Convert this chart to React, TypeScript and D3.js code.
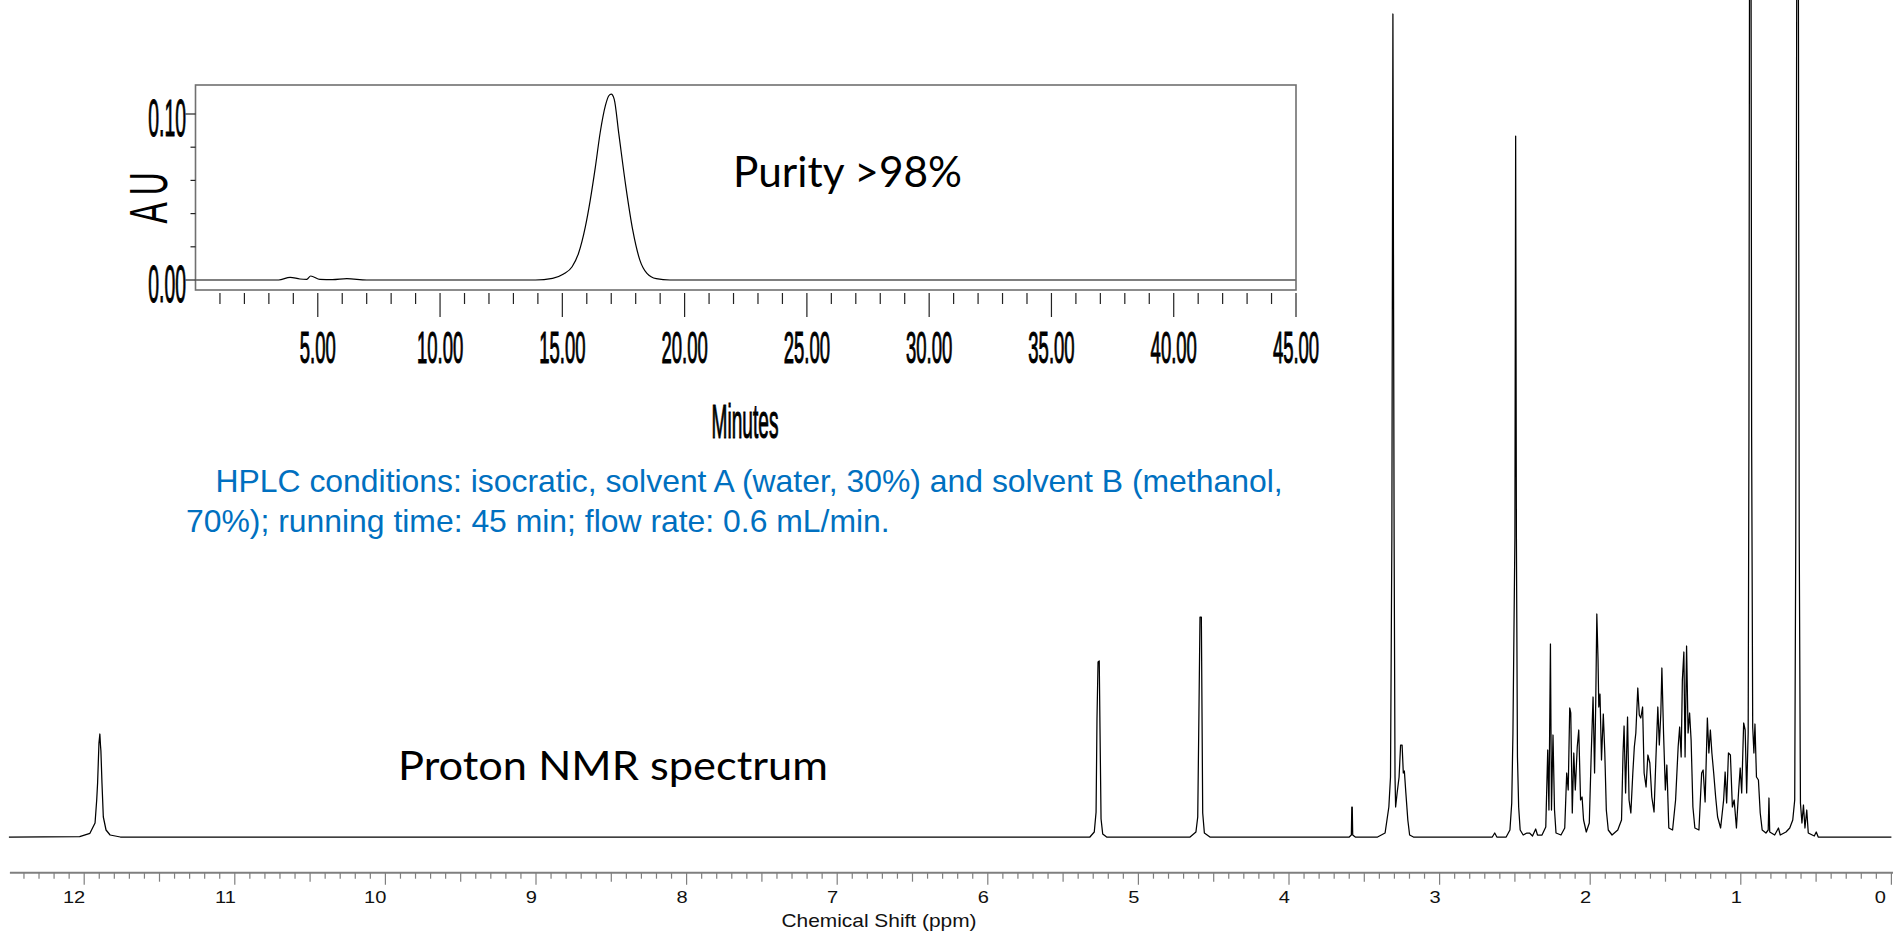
import React from "react";
import * as d3 from "d3";

const WIDTH = 1893;
const HEIGHT = 935;

// ---------- HPLC chromatogram (time in minutes, absorbance in AU) ----------
const hplcTrace: [number, number][] = [
  [0, 0], [3.4, 0], [3.87, 0.0016], [4.27, 0.0006], [4.55, 0.0004], [4.71, 0.0024],
  [5.09, 0.0004], [5.6, 0.0002], [6.19, 0.0008], [7.0, 0], [13.9, 0], [14.6, 0.001],
  [15.05, 0.0036], [15.4, 0.008], [15.66, 0.016], [15.94, 0.032], [16.14, 0.048],
  [16.35, 0.068], [16.55, 0.089], [16.76, 0.105], [16.9, 0.111], [17.0, 0.112],
  [17.12, 0.109], [17.31, 0.088], [17.6, 0.056], [17.88, 0.03], [18.17, 0.012],
  [18.46, 0.004], [18.84, 0.0008], [19.4, 0], [45, 0],
];
const hplcMinuteTicks = d3.range(1, 46);
const hplcLabeledMinutes = [5, 10, 15, 20, 25, 30, 35, 40, 45];
const hplcAbsTicks = [0, 0.02, 0.04, 0.06, 0.08, 0.1];
const hplcAbsLabels = [0, 0.1];

// ---------- 1H NMR spectrum (chemical shift in ppm, intensity in arbitrary units) ----------
const nmrDownfield: [number, number][] = [
  [12.5, 0], [12.03, 0.3], [11.962, 3.7], [11.928, 14], [11.917, 37], [11.911, 54],
  [11.902, 94], [11.896, 103], [11.892, 92], [11.889, 86], [11.882, 54], [11.873, 20],
  [11.855, 7], [11.828, 2], [11.76, 0],
  [5.322, 0], [5.293, 5], [5.281, 25], [5.275, 118], [5.268, 175], [5.26, 176],
  [5.255, 108], [5.248, 18], [5.237, 3], [5.211, 0],
  [4.657, 0], [4.618, 5], [4.606, 20], [4.598, 124], [4.591, 220], [4.582, 220],
  [4.573, 24], [4.562, 4], [4.525, 0],
  [3.6, 0], [3.586, 2], [3.583, 30], [3.58, 30], [3.577, 2], [3.56, 0],
];

const nmrMidfield: [number, number][] = [
  [3.412, 0], [3.362, 4], [3.337, 30], [3.326, 60], [3.317, 300], [3.31, 823],
  [3.302, 300], [3.296, 60], [3.292, 30], [3.282, 44], [3.269, 60], [3.259, 92],
  [3.249, 92], [3.241, 64], [3.234, 66], [3.224, 44], [3.211, 17], [3.199, 2],
  [3.174, 0], [2.65, 0], [2.634, 4], [2.62, 0],
  [2.558, 0], [2.533, 7], [2.521, 34], [2.513, 104], [2.5, 300], [2.495, 701],
  [2.49, 300], [2.483, 80], [2.475, 30], [2.465, 7], [2.445, 2], [2.42, 4],
  [2.403, 4], [2.383, 1], [2.362, 8], [2.35, 2], [2.32, 2], [2.295, 10],
];

const nmrAliphatic: [number, number][] = [
  [2.282, 87], [2.274, 27], [2.264, 193], [2.257, 27], [2.247, 102], [2.237, 27],
  [2.227, 4], [2.194, 2], [2.169, 9], [2.156, 64], [2.146, 47], [2.136, 129],
  [2.129, 124], [2.119, 24], [2.109, 84], [2.099, 47], [2.086, 90], [2.076, 107],
  [2.064, 37], [2.054, 40], [2.044, 17], [2.026, 5], [2.006, 14], [1.993, 84],
  [1.981, 140], [1.971, 64], [1.963, 137], [1.956, 223], [1.948, 177], [1.943, 130],
  [1.935, 143], [1.925, 77], [1.913, 123], [1.903, 84], [1.893, 27], [1.88, 7],
  [1.855, 2], [1.817, 7], [1.792, 17], [1.782, 84], [1.775, 111], [1.765, 44],
  [1.752, 120], [1.742, 37], [1.73, 24], [1.717, 64], [1.707, 90], [1.697, 104],
  [1.684, 149], [1.674, 122], [1.664, 119], [1.652, 130], [1.642, 64], [1.629, 50],
  [1.617, 82], [1.604, 74], [1.591, 40], [1.576, 25], [1.564, 77], [1.551, 130],
  [1.541, 92], [1.531, 124], [1.524, 169], [1.513, 104], [1.501, 47], [1.491, 72],
  [1.478, 9], [1.453, 7], [1.433, 37], [1.416, 90], [1.406, 110], [1.396, 80],
  [1.388, 157], [1.378, 185], [1.37, 80], [1.36, 191], [1.35, 104], [1.34, 124],
  [1.33, 97], [1.318, 30], [1.305, 9], [1.278, 7], [1.26, 64], [1.25, 67],
  [1.237, 35], [1.222, 119], [1.212, 84], [1.202, 107], [1.192, 84], [1.18, 64],
  [1.167, 40], [1.154, 20], [1.134, 9], [1.114, 37], [1.104, 65], [1.094, 34],
  [1.082, 84], [1.069, 82], [1.056, 30], [1.044, 37], [1.029, 9], [1.014, 47],
  [1.004, 69], [0.994, 44], [0.981, 114], [0.971, 107], [0.961, 44], [0.951, 104],
  [0.946, 400], [0.941, 1000], [0.933, 1000], [0.928, 400], [0.921, 110], [0.913, 84],
  [0.906, 113], [0.896, 60], [0.883, 57], [0.871, 24], [0.858, 7], [0.833, 4],
  [0.818, 7], [0.813, 39], [0.808, 5], [0.775, 2], [0.75, 9], [0.738, 2], [0.7, 5],
  [0.675, 9], [0.655, 17], [0.642, 37], [0.635, 300], [0.627, 1000], [0.619, 1000],
  [0.612, 300], [0.604, 34], [0.594, 14], [0.584, 32], [0.574, 9], [0.562, 27],
  [0.552, 4], [0.512, 1], [0.499, 5], [0.486, 0], [0, 0],
];

const nmrMajorTicks = d3.range(0, 13);
const nmrMinorTicks = d3.range(0, 125).map((i) => i / 10);

const purityLabel = "Purity >98%";
const spectrumLabel = "Proton NMR spectrum";
const conditionLines = [
  "HPLC conditions: isocratic, solvent A (water, 30%) and solvent B (methanol,",
  "70%); running time: 45 min; flow rate: 0.6 mL/min.",
];

const SANS = "'Liberation Sans', Arial, sans-serif";
const HUMANIST = "Lato, 'Open Sans', sans-serif";

export default function App() {
  // NMR scales
  const x = d3.scaleLinear().domain([12.5, 0]).range([8.9, 1891.4]);
  const baseline = 837;
  const y = d3.scaleLinear().domain([0, 837]).range([baseline, 0]);
  const nmrPoints = [...nmrDownfield, ...nmrMidfield, ...nmrAliphatic];
  const nmrLine = d3
    .line<[number, number]>()
    .x((d) => x(d[0]))
    .y((d) => y(d[1]))
    .curve(d3.curveLinear);
  const axisY = 872.7;

  // HPLC scales
  const hx = d3.scaleLinear().domain([0, 45]).range([195.5, 1296]);
  const hy = d3.scaleLinear().domain([0, 0.1]).range([280, 114]);
  const hplcLine = d3
    .line<[number, number]>()
    .x((d) => hx(d[0]))
    .y((d) => hy(d[1]))
    .curve(d3.curveMonotoneX);
  const boxTop = 85;
  const boxBottom = 290;

  // condensed instrument-style lettering used on the chromatogram axes
  const narrow = { fontFamily: SANS, fill: "#000", stroke: "#000", strokeWidth: 1.1 };

  return (
    <div style={{ position: "fixed", left: 0, top: 0, width: WIDTH, height: HEIGHT, background: "#fff" }}>
      <svg width={WIDTH} height={HEIGHT} style={{ display: "block" }}>
        <rect x={0} y={0} width={WIDTH} height={HEIGHT} fill="#fff" />

        {/* ---- NMR spectrum ---- */}
        <path d={nmrLine(nmrPoints) || ""} fill="none" stroke="#000" strokeWidth={1.25} strokeLinejoin="round" />

        {/* ppm axis */}
        <line x1={x(12.5) + 1} x2={WIDTH} y1={axisY} y2={axisY} stroke="#7f7f7f" strokeWidth={2} />
        {nmrMinorTicks.map((t) => {
          const r = Math.round(t * 10);
          const len = r % 10 === 0 ? 12 : r % 5 === 0 ? 9 : 6;
          return (
            <line key={`nt${r}`} x1={x(t)} x2={x(t)} y1={axisY} y2={axisY + len} stroke="#7f7f7f" strokeWidth={1.2} />
          );
        })}
        {nmrMajorTicks.map((t) => (
          <text
            key={`nl${t}`}
            transform={`translate(${Math.min(x(t) + 1, 1886)},903) scale(1.18,1)`}
            textAnchor="end"
            fontFamily={SANS}
            fontSize={17}
            fill="#111"
          >
            {t}
          </text>
        ))}
        <text x={879} y={927} textAnchor="middle" fontFamily={SANS} fontSize={18.5} fill="#111" textLength={195} lengthAdjust="spacingAndGlyphs">
          Chemical Shift (ppm)
        </text>

        <text x={398} y={780} fontFamily={HUMANIST} fontSize={41} fill="#000" textLength={430} lengthAdjust="spacingAndGlyphs">
          {spectrumLabel}
        </text>

        {/* ---- HPLC inset ---- */}
        <path d={hplcLine(hplcTrace) || ""} fill="none" stroke="#000" strokeWidth={1.2} />
        <rect
          x={hx(0)}
          y={boxTop}
          width={hx(45) - hx(0)}
          height={boxBottom - boxTop}
          fill="none"
          stroke="#707070"
          strokeWidth={1.6}
        />
        {hplcMinuteTicks.map((m) => {
          const major = m % 5 === 0;
          return (
            <line
              key={`ht${m}`}
              x1={hx(m)}
              x2={hx(m)}
              y1={boxBottom + 3}
              y2={boxBottom + (major ? 27 : 14)}
              stroke="#222"
              strokeWidth={1.2}
            />
          );
        })}
        {hplcLabeledMinutes.map((m) => (
          <text
            key={`hl${m}`}
            transform={`translate(${hx(m)},363) scale(0.42,1)`}
            textAnchor="middle"
            fontSize={44}
            {...narrow}
          >
            {m.toFixed(2)}
          </text>
        ))}
        {hplcAbsTicks.map((v) => {
          const major = hplcAbsLabels.includes(v);
          return (
            <line
              key={`hy${v}`}
              x1={hx(0) - (major ? 10 : 5)}
              x2={hx(0)}
              y1={hy(v)}
              y2={hy(v)}
              stroke="#222"
              strokeWidth={1.2}
            />
          );
        })}
        {hplcAbsLabels.map((v) => (
          <text
            key={`hyl${v}`}
            transform={`translate(${hx(0) - 9.5},${hy(v) + 22}) scale(0.38,1)`}
            textAnchor="end"
            fontSize={51}
            {...narrow}
          >
            {v.toFixed(2)}
          </text>
        ))}
        <text transform={`translate(745,438) scale(0.39,1)`} textAnchor="middle" fontSize={49} {...narrow}>
          Minutes
        </text>
        <text
          transform={`translate(166.5,198) rotate(-90) scale(0.6,1)`}
          textAnchor="middle"
          fontFamily={SANS}
          fontSize={53}
          fill="#000"
        >
          A U
        </text>
        <text x={733} y={187} fontFamily={HUMANIST} fontSize={42} fill="#000" textLength={229} lengthAdjust="spacingAndGlyphs">
          {purityLabel}
        </text>

        {/* ---- HPLC conditions ---- */}
        <text x={215.5} y={492.3} fontFamily={SANS} fontSize={31.9} fill="#0070C0">
          {conditionLines[0]}
        </text>
        <text x={186} y={531.7} fontFamily={SANS} fontSize={31.9} fill="#0070C0">
          {conditionLines[1]}
        </text>
      </svg>
    </div>
  );
}
